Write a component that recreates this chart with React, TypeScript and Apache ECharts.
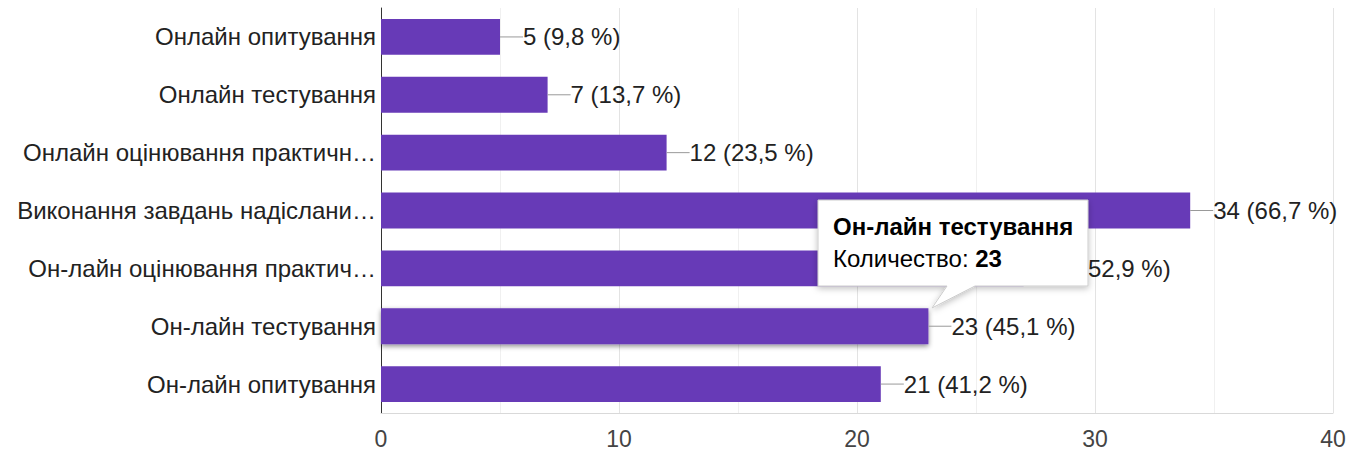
import React, { useEffect, useRef } from "react";
import * as echarts from "echarts";

const categories = [
  "Онлайн опитування",
  "Онлайн тестування",
  "Онлайн оцінювання практичн…",
  "Виконання завдань надіслани…",
  "Он-лайн оцінювання практич…",
  "Он-лайн тестування",
  "Он-лайн опитування",
];
const counts = [5, 7, 12, 34, 27, 23, 21];
const percents = ["9,8", "13,7", "23,5", "66,7", "52,9", "45,1", "41,2"];
const xTicks = [0, 10, 20, 30, 40];
const tooltipTitle = "Он-лайн тестування";
const tooltipLabel = "Количество: ";
const tooltipValue = "23";
const hoveredIndex = 5;

const FONT = 'Arial, "Liberation Sans", sans-serif';
const PURPLE = "#673ab7";
const FS = 24;

export default function App() {
  const ref = useRef<HTMLDivElement>(null);
  useEffect(() => {
    if (!ref.current) return;
    const chart = echarts.init(ref.current, null, { renderer: "svg" });
    const gl = 381, gr = 1333, gt = 8, gb = 413;
    chart.setOption({
      animation: false,
      backgroundColor: "#ffffff",
      grid: { left: gl, right: 1349 - gr, top: gt, bottom: 455 - gb, containLabel: false },
      xAxis: {
        type: "value",
        min: xTicks[0],
        max: xTicks[xTicks.length - 1],
        interval: 10,
        axisLine: { show: true, lineStyle: { color: "#d9d9d9" } },
        axisTick: { show: false },
        axisLabel: { color: "#444", fontSize: 23, fontFamily: FONT, margin: 14 },
        splitLine: { show: true, lineStyle: { color: "#e3e3e3" } },
        minorTick: { show: false, splitNumber: 2 },
        minorSplitLine: { show: true, lineStyle: { color: "#f0f0f0" } },
      },
      yAxis: {
        type: "category",
        data: categories,
        inverse: true,
        axisLine: { show: true, lineStyle: { color: "#333", width: 1 } },
        axisTick: { show: false },
        axisLabel: { color: "#222", fontSize: FS, fontFamily: FONT, margin: 5 },
        splitLine: { show: false },
      },
      series: [
        {
          type: "bar",
          barWidth: "62%",
          data: counts.map((v, i) => ({
            value: v,
            itemStyle:
              i === hoveredIndex
                ? { color: PURPLE, shadowBlur: 5, shadowColor: "rgba(0,0,0,0.45)", shadowOffsetY: 2 }
                : { color: PURPLE },
          })),
          label: {
            show: true,
            position: "right",
            distance: 0,
            formatter: (p: any) => `{l|}{t|${counts[p.dataIndex]} (${percents[p.dataIndex]} %)}`,
            rich: {
              l: { width: 23, height: 1, backgroundColor: "#999", verticalAlign: "middle" },
              t: { color: "#222", fontSize: FS, fontFamily: FONT, verticalAlign: "middle" },
            },
          },
        },
      ],
      graphic: [
        {
          type: "polygon",
          z: 100,
          shape: {
            points: [
              [818, 200],
              [1088, 200],
              [1088, 286],
              [975, 286],
              [932, 308],
              [947, 286],
              [818, 286],
            ],
          },
          style: {
            fill: "#ffffff",
            stroke: "#cccccc",
            lineWidth: 1,
            shadowBlur: 6,
            shadowColor: "rgba(0,0,0,0.25)",
            shadowOffsetY: 2,
          },
        },
        {
          type: "text",
          z: 101,
          x: 833,
          y: 226,
          style: {
            text: tooltipTitle,
            fill: "#000",
            font: `bold ${FS}px ${FONT}`,
            verticalAlign: "middle",
          },
        },
        {
          type: "text",
          z: 101,
          x: 833,
          y: 258,
          style: {
            text: `{a|${tooltipLabel}}{b|${tooltipValue}}`,
            verticalAlign: "middle",
            rich: {
              a: { fill: "#000", fontSize: FS, fontFamily: FONT },
              b: { fill: "#000", fontSize: FS, fontFamily: FONT, fontWeight: "bold" },
            },
          } as any,
        },
      ],
    });
    return () => chart.dispose();
  }, []);
  return (
    <div
      ref={ref}
      style={{ position: "fixed", left: 0, top: 0, width: 1349, height: 455, background: "#fff" }}
    />
  );
}
